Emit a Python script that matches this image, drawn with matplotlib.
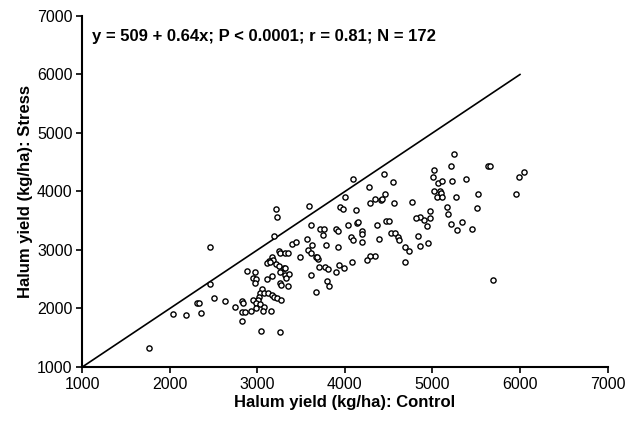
import matplotlib
matplotlib.use('Agg')
import matplotlib.pyplot as plt

plt.rcParams['font.family'] = ['Liberation Sans', 'DejaVu Sans']

# halum yield (kg/ha)
control = [1765, 2462, 2459, 2040, 2180, 2306, 2336, 2352, 2505, 2630,
           3213, 3225, 3590, 3616, 3719, 3757, 3902, 3917, 3948, 3190,
           3745, 3399, 3437, 3563, 3624, 3784, 3922, 3242, 3262, 3311,
           3345, 3487, 3574, 3612, 3666, 3688, 3681, 3168, 3178, 3128,
           3110, 3148, 3208, 3242, 3299, 3319, 2882, 2977, 3262, 3311,
           3361, 3323, 3168, 3106, 2951, 2980, 2968, 3254, 3270, 3354,
           3609, 3704, 3772, 3802, 3893, 3799, 3822, 3936, 3673, 3048,
           3034, 3071, 3117, 3163, 3194, 3228, 3266, 3022, 3007, 2954,
           2985, 3025, 3071, 3064, 2987, 2927, 2828, 2836, 2748, 2820,
           2859, 2825, 3159, 3045, 3262, 3993, 4096, 4451, 4553, 4279,
           4001, 3979, 4127, 4291, 4339, 4408, 4427, 4458, 4564, 4762,
           5018, 5010, 5064, 5110, 5018, 5082, 5102, 5052, 5110, 4976,
           4976, 4904, 4858, 4816, 4942, 4036, 4134, 4153, 4191, 4191,
           4367, 4465, 4499, 4522, 4576, 4607, 4621, 4393, 4070, 4093,
           4196, 4835, 4690, 4858, 4950, 4728, 4687, 4347, 4291, 4253,
           4079, 5242, 5212, 5227, 5384, 5635, 5658, 6042, 5992, 5958,
           5524, 5269, 5167, 5173, 5513, 5216, 5333, 5284, 5453, 5692]
stress = [1320, 3046, 2418, 1901, 1884, 2094, 2094, 1918, 2184, 2128,
          3695, 3558, 3746, 3422, 3353, 3353, 3353, 3329, 3740, 3234,
          3256, 3097, 3131, 3182, 3085, 3080, 3046, 2988, 2943, 2953,
          2953, 2880, 3000, 2943, 2875, 2846, 2885, 2875, 2829, 2812,
          2783, 2789, 2755, 2726, 2687, 2692, 2641, 2629, 2624, 2567,
          2589, 2526, 2560, 2499, 2516, 2499, 2430, 2441, 2401, 2379,
          2577, 2704, 2714, 2675, 2629, 2475, 2384, 2748, 2287, 2333,
          2270, 2260, 2260, 2225, 2201, 2184, 2140, 2201, 2145, 2150,
          2089, 2077, 2031, 1962, 2008, 1957, 2123, 2089, 2020, 1940,
          1940, 1791, 1957, 1620, 1603, 2687, 4208, 4304, 4162, 4071,
          3900, 3700, 3683, 3798, 3866, 3854, 3876, 3951, 3798, 3815,
          4367, 4252, 4139, 4174, 4013, 4008, 3969, 3900, 3900, 3666,
          3546, 3512, 3558, 3541, 3410, 3427, 3461, 3478, 3319, 3273,
          3422, 3495, 3490, 3295, 3295, 3227, 3176, 3193, 3217, 3170,
          3136, 3239, 3046, 3068, 3114, 2977, 2789, 2892, 2897, 2834,
          2794, 4635, 4430, 4184, 4218, 4435, 4435, 4327, 4247, 3951,
          3957, 3910, 3734, 3610, 3717, 3444, 3483, 3336, 3353, 2482]

# 1:1 line
line_x = [1000, 6000]
line_y = [1000, 6000]

ticks = [1000, 2000, 3000, 4000, 5000, 6000, 7000]

fig = plt.figure(figsize=(6.3, 4.21), dpi=100)
ax = fig.add_axes([0.1306, 0.1283, 0.8337, 0.8337])

ax.plot(line_x, line_y, color='black', lw=1.2, zorder=2)
ax.scatter(control, stress, s=14, facecolors='white', edgecolors='black',
           linewidths=1.0, zorder=3)

ax.set_xlim(1000, 7000)
ax.set_ylim(1000, 7000)
ax.set_xticks(ticks)
ax.set_yticks(ticks)
ax.tick_params(direction='out', length=4, width=1.2, labelsize=11.5, pad=3,
               colors='black')

for side in ['top', 'right']:
    ax.spines[side].set_visible(False)
for side in ['left', 'bottom']:
    ax.spines[side].set_linewidth(1.5)

ax.set_xlabel('Halum yield (kg/ha): Control', fontsize=12, fontweight='bold',
              labelpad=2.5)
ax.set_ylabel('Halum yield (kg/ha): Stress', fontsize=12, fontweight='bold',
              labelpad=3)

ax.text(1111, 6650, 'y = 509 + 0.64x; P < 0.0001; r = 0.81; N = 172',
        fontsize=12, fontweight='bold', ha='left', va='center')

fig.savefig('out.png', dpi=100)
